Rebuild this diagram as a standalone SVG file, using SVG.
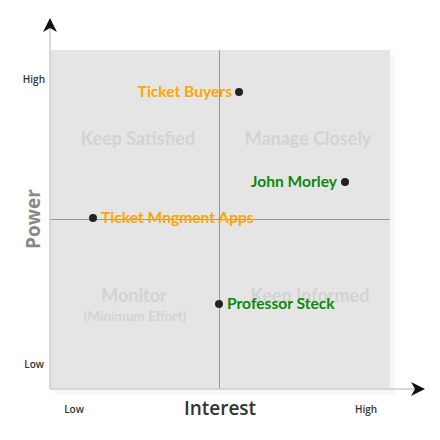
<svg xmlns="http://www.w3.org/2000/svg" width="440" height="440" viewBox="0 0 440 440">
<style>
.q{font-family:Lato,"Open Sans","Liberation Sans",sans-serif;font-weight:700;fill:#d3d3d3;text-anchor:middle}
.t{font-family:Lato,"Open Sans","Liberation Sans",sans-serif;font-weight:700;font-size:15.6px}
.o{fill:#ffa500}
.g{fill:#0a8a0a}
.ax{font-family:"Open Sans","Liberation Sans",sans-serif;font-weight:600;font-size:10px;fill:#333}
.dot{fill:#222}
</style>
<rect width="440" height="440" fill="#fff"/>
<g id="plot">
<rect x="55" y="55" width="340" height="340" fill="#f7f7f7"/>
<rect x="50" y="50" width="340" height="339" fill="#e5e5e5"/>
<line x1="219.5" y1="50" x2="219.5" y2="389" stroke="#999" stroke-width="1"/>
<line x1="50" y1="219.5" x2="390" y2="219.5" stroke="#999" stroke-width="1"/>
</g>
<g id="axes">
<line x1="50" y1="28" x2="50" y2="389" stroke="#ccc" stroke-width="1.5"/>
<line x1="50" y1="389" x2="418" y2="389" stroke="#ccc" stroke-width="1.5"/>
<path d="M50 18 L57 32 L50 28 L43 32 Z" fill="#111"/>
<path d="M425 389 L411 382 L415 389 L411 396 Z" fill="#111"/>
</g>
<g id="quadrants">
<text class="q" x="138" y="145" font-size="18">Keep Satisfied</text>
<text class="q" x="308" y="145" font-size="18">Manage Closely</text>
<text class="q" x="134" y="302" font-size="18">Monitor</text>
<text class="q" x="135" y="321" font-size="13.5">(Minimum Effort)</text>
<text class="q" x="310" y="302" font-size="18">Keep Informed</text>
</g>
<g id="labels">
<text class="ax" x="45" y="83" text-anchor="end">High</text>
<text class="ax" x="44" y="368" text-anchor="end">Low</text>
<text class="ax" x="74" y="413" text-anchor="middle">Low</text>
<text class="ax" x="366" y="413" text-anchor="middle">High</text>
<text x="220" y="415" text-anchor="middle" font-family="Open Sans,Liberation Sans,sans-serif" font-weight="600" font-size="19" fill="#333">Interest</text>
<text transform="translate(40 219) rotate(-90)" text-anchor="middle" font-family="Open Sans,Liberation Sans,sans-serif" font-weight="700" font-size="19" fill="#888">Power</text>
</g>
<g id="ticket-buyers">
<circle class="dot" cx="239" cy="92" r="4"/>
<text class="t o" x="232" y="97" text-anchor="end">Ticket Buyers</text>
</g>
<g id="john-morley">
<circle class="dot" cx="345" cy="182" r="4"/>
<text class="t g" x="337" y="187" text-anchor="end">John Morley</text>
</g>
<g id="ticket-apps">
<circle class="dot" cx="93" cy="218" r="4"/>
<text class="t o" x="101" y="223">Ticket Mngment Apps</text>
</g>
<g id="professor-steck">
<circle class="dot" cx="219" cy="304" r="4"/>
<text class="t g" x="227" y="309">Professor Steck</text>
</g>
</svg>
